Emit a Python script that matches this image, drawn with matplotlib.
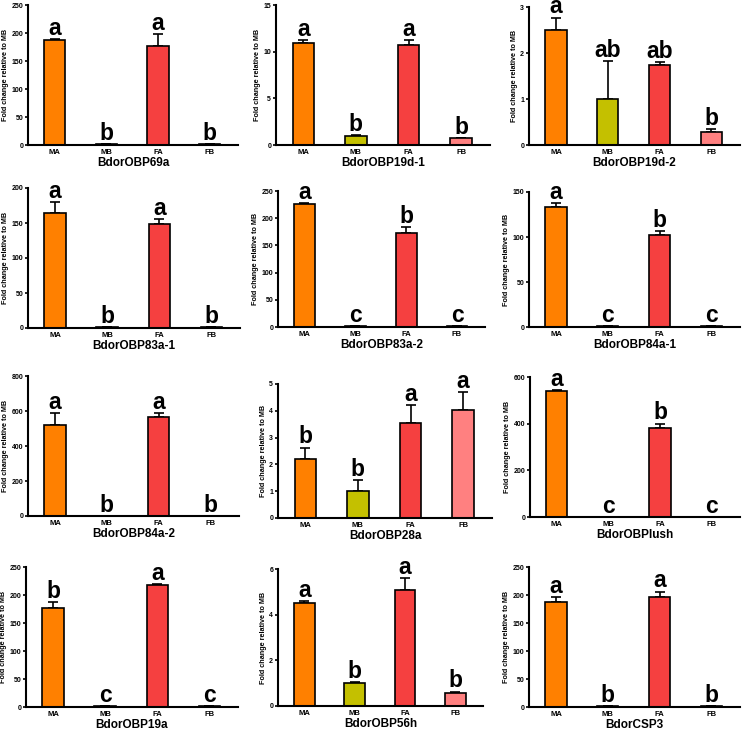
import numpy as np
import matplotlib
matplotlib.use("Agg")
import matplotlib.pyplot as plt

plt.rcParams["font.family"] = ["Liberation Sans", "DejaVu Sans"]
plt.rcParams["font.weight"] = "bold"

# Data
groups = ["MA", "MB", "FA", "FB"]
colors = ["#FF8000", "#C4C000", "#F54040", "#FF8080"]

genes = ["BdorOBP69a", "BdorOBP19d-1", "BdorOBP19d-2",
         "BdorOBP83a-1", "BdorOBP83a-2", "BdorOBP84a-1",
         "BdorOBP84a-2", "BdorOBP28a", "BdorOBPlush",
         "BdorOBP19a", "BdorOBP56h", "BdorCSP3"]

means = [
    [188, 1, 176, 1],
    [10.9, 1.0, 10.7, 0.71],
    [2.49, 1.0, 1.74, 0.29],
    [165, 1, 149, 1],
    [226, 1, 172, 1],
    [133, 1, 102, 1],
    [520, 1, 567, 1],
    [2.21, 1.01, 3.55, 4.03],
    [539, 1, 381, 1],
    [176, 1, 217, 1],
    [4.5, 1.0, 5.06, 0.58],
    [188, 1, 197, 1],
]

errors = [
    [1, 0, 22, 0],
    [0.35, 0.08, 0.55, 0.06],
    [0.28, 0.82, 0.07, 0.05],
    [15, 0, 7, 0],
    [2, 0, 11, 0],
    [5, 0, 5, 0],
    [70, 0, 19, 0],
    [0.42, 0.42, 0.66, 0.68],
    [4, 0, 19, 0],
    [12, 0, 3, 0],
    [0.1, 0.05, 0.55, 0.05],
    [9, 0, 9, 0],
]

letters = [
    ["a", "b", "a", "b"],
    ["a", "b", "a", "b"],
    ["a", "ab", "ab", "b"],
    ["a", "b", "a", "b"],
    ["a", "c", "b", "c"],
    ["a", "c", "b", "c"],
    ["a", "b", "a", "b"],
    ["b", "b", "a", "a"],
    ["a", "c", "b", "c"],
    ["b", "c", "a", "c"],
    ["a", "b", "a", "b"],
    ["a", "b", "a", "b"],
]

ymax = [250, 15, 3, 200, 250, 150, 800, 5, 600, 250, 6, 250]
ystep = [50, 5, 1, 50, 50, 50, 200, 1, 200, 50, 2, 50]

# axes boxes in pixels: left, top, right, bottom
boxes = [
    (28, 5, 238, 145), (276, 5, 490, 145), (529, 7, 740, 145),
    (28, 188, 240, 328), (278, 191, 485, 327), (529, 192, 740, 327),
    (28, 376, 239, 516), (278, 384, 492, 518), (530, 377, 740, 517),
    (26, 567, 238, 707), (278, 569, 483, 706), (529, 567, 740, 707),
]

W, H = 742, 731
fig = plt.figure(figsize=(W / 100, H / 100), dpi=100)

x = np.arange(len(groups))
for i, gene in enumerate(genes):
    x0, y0, x1, y1 = boxes[i]
    ax = fig.add_axes([x0 / W, 1 - y1 / H, (x1 - x0) / W, (y1 - y0) / H])
    vals = np.array(means[i], dtype=float)
    errs = np.array(errors[i], dtype=float)
    ax.bar(x, vals, width=0.41, color=colors, edgecolor="black", linewidth=1.2, zorder=2)
    ax.errorbar(x, vals, yerr=[np.zeros_like(errs), errs], fmt="none", ecolor="black",
                elinewidth=1.2, capsize=3.5, capthick=1.2, zorder=1)
    for xi, v, e, lab in zip(x, vals, errs, letters[i]):
        ax.annotate(lab, (xi, v + e), xytext=(0, 3), textcoords="offset points",
                    ha="center", va="baseline", fontsize=16.5, fontweight="bold",
                    annotation_clip=False)
    ax.set_xlim(-0.52, 3.55)
    ax.set_ylim(0, ymax[i])
    ax.set_yticks(np.arange(0, ymax[i] + ystep[i] / 2, ystep[i]))
    ax.set_xticks(x)
    ax.set_xticklabels(groups)
    ax.tick_params(axis="x", length=0, pad=3, labelsize=5.5)
    ax.tick_params(axis="y", length=2.5, width=1.2, pad=1, labelsize=5)
    for t in ax.get_xticklabels() + ax.get_yticklabels():
        t.set_fontweight("bold")
    for s in ["top", "right"]:
        ax.spines[s].set_visible(False)
    for s in ["left", "bottom"]:
        ax.spines[s].set_linewidth(1.5)
    ax.set_ylabel("Fold change relative to MB", fontsize=5.2, fontweight="bold", labelpad=1.5)
    ax.set_xlabel(gene, fontsize=8.5, fontweight="bold", labelpad=0.8)

fig.savefig("out.png", dpi=100)
